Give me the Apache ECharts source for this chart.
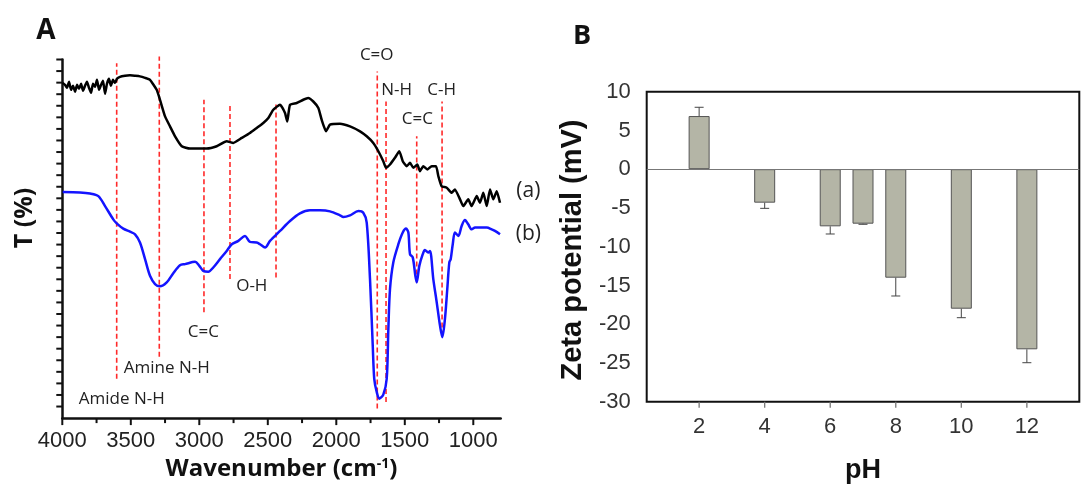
<!DOCTYPE html>
<html><head><meta charset="utf-8">
<script src="https://cdn.jsdelivr.net/npm/echarts@6/dist/echarts.min.js"></script>
<style>html,body{margin:0;padding:0;background:#fff}#c{width:1087px;height:486px}</style>
</head><body><div id="c"></div>
<script>
// ---- Panel A: FTIR spectra ----
const wnA = [3997,3980,3966,3951,3936,3922,3907,3892,3878,3863,3849,3834,3820,3805,3790,3776,3761,3747,3732,3717,3703,3688,3674,3659,3645,3630,3615,3601,3579,3542,3506,3469,3433,3396,3360,3311,3287,3250,3214,3177,3128,3068,2946,2873,2800,2752,2690,2630,2581,2533,2496,2460,2411,2375,2358,2338,2289,2241,2205,2168,2131,2107,2075,2046,1973,1900,1827,1778,1730,1693,1657,1637,1608,1572,1540,1515,1486,1462,1438,1409,1389,1365,1336,1304,1272,1255,1231,1194,1158,1134,1097,1073,1037,1012,975,951,927,902,878,854,829,805];
const tA = [28.98,28.81,28.55,29.07,28.38,28.73,28.21,28.81,28.47,28.90,28.30,28.73,29.07,28.55,28.12,28.90,28.64,29.24,28.38,28.81,29.16,28.04,28.90,29.33,28.73,29.24,28.98,29.33,29.50,29.59,29.63,29.59,29.54,29.41,29.24,28.38,27.52,26.08,25.22,24.36,23.50,23.30,23.30,23.50,23.93,23.79,24.22,24.65,25.08,25.51,25.94,26.66,27.09,26.40,25.65,27.09,27.24,27.52,27.67,27.37,26.81,25.80,24.79,25.37,25.45,25.22,24.79,24.36,23.79,23.07,22.21,21.64,21.92,22.50,23.07,22.21,21.78,22.07,21.64,21.92,21.35,21.78,21.49,21.78,21.78,20.91,20.05,19.92,19.48,19.77,18.91,18.33,18.91,18.33,19.19,18.62,19.48,18.33,19.77,18.91,19.62,18.62];
const wnB = [3997,3871,3798,3737,3688,3628,3603,3555,3506,3469,3433,3396,3360,3323,3287,3238,3190,3141,3104,3031,3000,2971,2934,2898,2849,2800,2763,2715,2666,2630,2581,2557,2520,2484,2411,2338,2265,2192,2119,2046,1973,1949,1900,1839,1803,1778,1754,1734,1723,1705,1686,1657,1632,1620,1608,1584,1547,1515,1491,1474,1462,1442,1423,1413,1394,1369,1353,1329,1316,1292,1267,1243,1226,1207,1190,1175,1165,1150,1134,1109,1085,1061,1037,1012,987,951,902,866,842,805];
const tB = [19.54,19.51,19.42,19.19,18.33,17.18,16.84,16.38,16.11,15.89,15.18,13.74,12.30,11.59,11.39,11.73,12.53,13.22,13.31,13.51,13.16,12.73,12.65,13.02,13.74,14.45,15.03,15.32,15.75,15.23,15.18,15.03,14.75,15.32,16.18,17.04,17.70,17.96,17.96,17.87,17.53,17.38,17.53,17.90,17.76,16.90,12.02,6.27,3.40,2.26,1.68,2.03,3.40,7.71,11.16,13.46,15.03,16.04,16.38,16.04,14.17,13.89,12.30,11.73,13.16,14.17,14.54,14.32,14.45,12.02,10.01,7.99,7.00,8.57,11.16,13.46,13.74,15.03,16.04,15.75,16.61,17.12,16.75,16.32,16.47,16.47,16.47,16.32,16.18,15.89];
const peakWn = [3603,3292,2966,2776,2440,1701,1637,1413,1228];
const peakTop = [30.68,31.25,27.52,27.24,27.26,29.96,27.37,24.36,27.37];
const peakBottom = [3.40,5.30,9.15,12.02,12.16,0.82,1.40,11.73,7.13];
const annText = ['C=O','N-H','C-H','C=C','(a)','(b)','O-H','C=C','Amine N-H','Amide N-H'];
const annWn = [1705,1559,1231,1409,598,598,2617,2971,3238,3566];
const annT = [31.40,28.38,28.38,25.80,19.62,15.89,11.39,7.43,4.32,1.68];
const xTicksA = [1000,1500,2000,2500,3000,3500,4000];
const xMinorA = [1250,1750,2250,2750,3250,3750];
const yTicksA = [1,2,3,4,5,6,7,8,9,10,11,12,13,14,15,16,17,18,19,20,21,22,23,24,25,26,27,28,29,30,31];

// ---- Panel B: zeta potential ----
const pH = [2,4,6,7,8,10,12];
const zeta = [6.86,-4.32,-7.37,-7.03,-14.0,-18.0,-23.24];
const zetaErr = [1.13,0.73,0.99,0.08,2.36,1.16,1.73];
const pHTicks = [2,4,6,8,10,12];

const numFont = '"Liberation Sans", Arial, sans-serif';
const txtFont = '"Open Sans", sans-serif';

function tickSeries(xi, yi, values, horizontal, anchor, len, color, width) {
  return {type:'custom', xAxisIndex:xi, yAxisIndex:yi, z:6, silent:true,
    data: values.map(v=>[v]),
    renderItem:(params, api)=>{
      const v = api.value(0);
      const p = horizontal ? api.coord([anchor, v]) : api.coord([v, anchor]);
      const shape = horizontal
        ? {x1:p[0]-len, y1:p[1], x2:p[0], y2:p[1]}
        : {x1:p[0], y1:p[1], x2:p[0], y2:p[1]+len};
      return {type:'line', shape, style:{stroke:color, lineWidth:width}};
    }};
}

const chart = echarts.init(document.getElementById('c'));
chart.setOption({
  animation:false,
  grid:[
    {left:62.3, width:438.4, top:59.5, height:360},
    {left:646.7, width:432.6, top:91.7, height:310, show:true, borderColor:'#111', borderWidth:2}
  ],
  xAxis:[
    {gridIndex:0, type:'value', min:800, max:4000, inverse:true, position:'bottom',
     axisLine:{show:true, onZero:false, lineStyle:{color:'#111', width:2.5}},
     axisTick:{show:false},
     axisLabel:{show:true, customValues:xTicksA, formatter:(v)=>String(v), fontSize:22, color:'#222', fontFamily:numFont, margin:12},
     splitLine:{show:false},
     name:'{a|Wavenumber (cm}{s|-1}{a|)}', nameLocation:'middle', nameGap:34,
     nameTextStyle:{rich:{a:{fontSize:24, fontWeight:'bold', fontFamily:txtFont, color:'#111'},
                          s:{fontSize:14, fontWeight:'bold', fontFamily:txtFont, color:'#111', verticalAlign:'top'}}}},
    {gridIndex:1, type:'value', min:0.4, max:13.6, position:'bottom',
     axisLine:{show:false, onZero:false},
     axisTick:{show:false},
     axisLabel:{show:true, customValues:pHTicks, fontSize:22, color:'#333', fontFamily:numFont, margin:14},
     splitLine:{show:false}}
  ],
  yAxis:[
    {gridIndex:0, type:'value', min:0, max:31, interval:1,
     axisLine:{show:true, onZero:false, lineStyle:{color:'#111', width:2.5}},
     axisTick:{show:false},
     axisLabel:{show:false}, splitLine:{show:false}},
    {gridIndex:1, type:'value', min:-30, max:10, interval:5,
     axisLine:{show:false, onZero:false}, axisTick:{show:false},
     axisLabel:{show:true, fontSize:22, color:'#333', fontFamily:numFont, margin:16},
     splitLine:{show:false}}
  ],
  graphic:[
    {type:'text', x:46, y:31, style:{text:'A', font:'bold 28px '+txtFont, fill:'#111', textAlign:'center', textVerticalAlign:'middle'}},
    {type:'text', x:582, y:36, style:{text:'B', font:'bold 27px '+txtFont, fill:'#111', textAlign:'center', textVerticalAlign:'middle'}},
    {type:'text', x:25, y:218, rotation:Math.PI/2, style:{text:'T (%)', font:'bold 25px '+txtFont, fill:'#111', textAlign:'center', textVerticalAlign:'middle'}},
    {type:'text', x:573, y:250, rotation:Math.PI/2, style:{text:'Zeta potential (mV)', font:'bold 29px '+numFont, fill:'#111', textAlign:'center', textVerticalAlign:'middle'}},
    {type:'text', x:863, y:471, style:{text:'pH', font:'bold 27px '+numFont, fill:'#111', textAlign:'center', textVerticalAlign:'middle'}}
  ],
  series:[
    {type:'custom', xAxisIndex:0, yAxisIndex:0, z:1,
     data: peakWn.map((w,i)=>[w, peakBottom[i], peakTop[i]]),
     renderItem:(params, api)=>{
       const p0 = api.coord([api.value(0), api.value(1)]);
       const p1 = api.coord([api.value(0), api.value(2)]);
       return {type:'line', shape:{x1:p0[0], y1:p0[1], x2:p1[0], y2:p1[1]},
               style:{stroke:'#ff2a2a', lineWidth:1.6, lineDash:[5,3]}};
     }},
    {type:'line', xAxisIndex:0, yAxisIndex:0, z:3, showSymbol:false, smooth:0.15,
     data: wnA.map((w,i)=>[w, tA[i]]), lineStyle:{color:'#000', width:2.5}},
    {type:'line', xAxisIndex:0, yAxisIndex:0, z:3, showSymbol:false, smooth:0.3,
     data: wnB.map((w,i)=>[w, tB[i]]), lineStyle:{color:'#1414ff', width:2.5}},
    {type:'custom', xAxisIndex:0, yAxisIndex:0, z:4,
     data: annWn.map((w,i)=>[w, annT[i], i]),
     renderItem:(params, api)=>{
       const p = api.coord([api.value(0), api.value(1)]);
       const t = annText[params.dataIndex];
       const big = t.charAt(0) === '(';
       return {type:'text', x:p[0], y:p[1],
               style:{text:t, font:(big?'21px ':'17px ')+txtFont, fill:'#222', textAlign:'center', textVerticalAlign:'middle'}};
     }},
    tickSeries(0, 0, yTicksA, true, 4000, 6, '#111', 2),
    tickSeries(0, 0, xTicksA, false, 0, 7, '#111', 2),
    tickSeries(0, 0, xMinorA, false, 0, 5, '#111', 2),
    tickSeries(1, 1, pHTicks, false, -30, 6, '#777', 1.3),
    {type:'bar', xAxisIndex:1, yAxisIndex:1, barWidth:21, z:2,
     data: pH.map((p,i)=>[p, zeta[i]]),
     itemStyle:{color:'#b4b5a6', borderColor:'#555', borderWidth:1},
     markLine:{silent:true, symbol:'none', label:{show:false},
               lineStyle:{color:'#777', width:1, type:'solid'}, data:[{yAxis:0}]}},
    {type:'custom', xAxisIndex:1, yAxisIndex:1, z:3,
     data: pH.map((p,i)=>[p, zeta[i], zetaErr[i]]),
     renderItem:(params, api)=>{
       const x = api.value(0), v = api.value(1), e = api.value(2);
       const end = v >= 0 ? v + e : v - e;
       const p0 = api.coord([x, v]), p1 = api.coord([x, end]);
       const hw = 4.5;
       return {type:'group', children:[
         {type:'line', shape:{x1:p0[0], y1:p0[1], x2:p1[0], y2:p1[1]}, style:{stroke:'#444', lineWidth:1}},
         {type:'line', shape:{x1:p1[0]-hw, y1:p1[1], x2:p1[0]+hw, y2:p1[1]}, style:{stroke:'#444', lineWidth:1}}
       ]};
     }}
  ]
});
</script>
</body></html>
